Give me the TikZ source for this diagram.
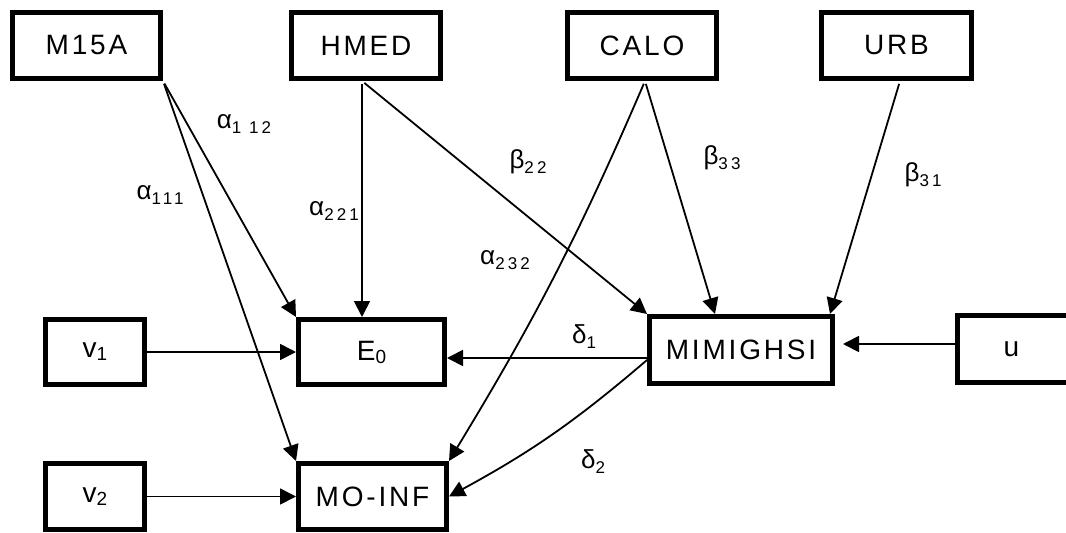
\documentclass[tikz,border=0pt]{standalone}
\usepackage{fontspec}
\setmainfont{Liberation Sans}
\usetikzlibrary{arrows.meta}
\newcommand{\glab}[2]{{\fontsize{26}{26}\selectfont #1\raisebox{-5pt}{\fontsize{17}{17}\selectfont\addfontfeature{LetterSpace=18}#2}}}
\newcommand{\bsub}[2]{#1\raisebox{-3pt}{\fontsize{19}{19}\selectfont #2}}
\tikzset{
  box/.style={draw, line width=5pt, rectangle, inner sep=0pt,
    font=\fontsize{28}{28}\selectfont\addfontfeature{LetterSpace=10}},
  arr/.style={line width=1.8pt, -{Triangle[length=16pt,width=16pt]}},
  lab/.style={inner sep=0pt}
}
\begin{document}
\begin{tikzpicture}[x=1pt,y=-1pt]
\useasboundingbox (0,0) rectangle (1066,533);
% boxes
\node[box, minimum width=148pt, minimum height=66pt] (M15A) at (86.5,45.5) {M15A};
\node[box, minimum width=149pt, minimum height=66pt] (HMED) at (366,45.5) {HMED};
\node[box, minimum width=149pt, minimum height=66pt] (CALO) at (642,45.5) {CALO};
\node[box, minimum width=150pt, minimum height=66pt] (URB) at (896.5,45.5) {URB};
\node[box, minimum width=99pt, minimum height=65pt] (v1) at (95,352) {\bsub{v}{1}};
\node[box, minimum width=146pt, minimum height=65pt] (E0) at (371.5,352) {\bsub{E}{0}};
\node[box, minimum width=99pt, minimum height=66pt] (v2) at (95,496.5) {\bsub{v}{2}};
\node[box, minimum width=148pt, minimum height=66pt] (MOINF) at (372.5,496.5) {MO-INF};
\node[box, minimum width=183pt, minimum height=67pt] (MIM) at (741,350) {MIMIGHSI};
\node[box, minimum width=115pt, minimum height=67pt, text width=115pt, align=left] (u) at (1015,349) {\hspace{46pt}u};
% connectors
\draw[arr, shorten <=3pt] (M15A.south east) -- (E0.north west);
\draw[arr, shorten <=3pt] (M15A.south east) -- (MOINF.north west);
\draw[arr, shorten <=3pt] ([xshift=-4pt]HMED.south) -- ([xshift=-4pt]HMED.south |- E0.north);
\draw[arr, shorten <=3pt] ([xshift=-4pt]HMED.south) -- (MIM.north west);
\draw[arr, shorten <=3pt] ([xshift=3pt]CALO.south) to[bend left=4] (MOINF.north east);
\draw[arr, shorten <=3pt] ([xshift=3pt]CALO.south) -- ([xshift=-26pt]MIM.north);
\draw[arr, shorten <=3pt] ([xshift=3.5pt]URB.south) -- ([xshift=-5pt]MIM.north east);
\draw[arr] ([yshift=-8pt]MIM.west) coordinate (d1s) -- (d1s -| E0.east);
\draw[arr] ([yshift=-10pt]MIM.west) to[bend left=6] (MOINF.east);
\draw[arr, shorten >=8pt] ([yshift=5pt]u.west) coordinate (us) -- (us -| MIM.east);
\draw[arr] (v1.east) -- (E0.west);
\draw[arr] (v2.east) -- (MOINF.west);
% labels
\node[lab] (l112) at (244,124) {\glab{α}{1 12}};
\node[lab] (l111) at (160,195) {\glab{α}{111}};
\node[lab] (l221) at (334,211) {\glab{α}{221}};
\node[lab] (b22) at (528,162) {\glab{β}{22}};
\node[lab] (l232) at (505,260) {\glab{α}{232}};
\node[lab] (b33) at (722,158) {\glab{β}{33}};
\node[lab] (b31) at (923,175) {\glab{β}{31}};
\node[lab] (d1) at (584,337) {\glab{δ}{1}};
\node[lab] (d2) at (593,462) {\glab{δ}{2}};
\end{tikzpicture}
\end{document}
